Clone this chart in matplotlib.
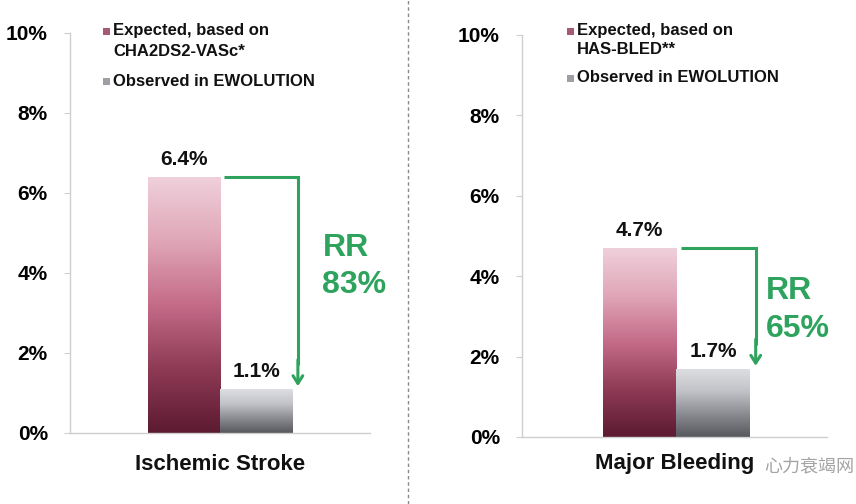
import numpy as np
import matplotlib
matplotlib.use("Agg")
import matplotlib.pyplot as plt
from matplotlib.colors import LinearSegmentedColormap
from matplotlib.patches import Rectangle

plt.rcParams['font.family'] = ['Liberation Sans', 'DejaVu Sans']

# ---- data ----
series = ["Expected", "Observed"]
stroke_values = [6.4, 1.1]
bleeding_values = [4.7, 1.7]
categories = ["Ischemic Stroke", "Major Bleeding"]
value_labels = [["6.4%", "1.1%"], ["4.7%", "1.7%"]]
rr_values = ["83%", "65%"]
legend_expected = [["Expected, based on", "CHA2DS2-VASc*"],
                   ["Expected, based on", "HAS-BLED**"]]
legend_observed = "Observed in EWOLUTION"
yticks = [0, 2, 4, 6, 8, 10]
ytick_labels = ["0%", "2%", "4%", "6%", "8%", "10%"]

W, H = 856, 504
fig = plt.figure(figsize=(W / 100, H / 100), dpi=100)
fig.patch.set_facecolor("white")

pink_cmap = LinearSegmentedColormap.from_list(
    "pink", ["#5c1a31", "#8e3a55", "#c46b88", "#e0a6b8", "#efd0da"])
gray_cmap = LinearSegmentedColormap.from_list(
    "gray", ["#56585e", "#8a8c92", "#c2c3c8", "#dedfe2"])
cmaps = [pink_cmap, gray_cmap]
green = "#2ea35e"


def px_axes(x0, y_top, x1, y_bot):
    return fig.add_axes([x0 / W, 1 - y_bot / H, (x1 - x0) / W, (y_bot - y_top) / H])


panels = [
    dict(box=(70, 33, 370, 433), values=stroke_values, xlim=(-1.58, 2.58),
         rr_x=1.92, rr_y=(4.63, 3.7), leg_x=103, leg_y=(31, 52, 81)),
    dict(box=(522, 35, 827, 437), values=bleeding_values, xlim=(-1.6, 2.55),
         rr_x=1.72, rr_y=(3.62, 2.68), leg_x=567, leg_y=(31, 50, 78)),
]

grad = np.linspace(0, 1, 256).reshape(-1, 1)

for i, p in enumerate(panels):
    ax = px_axes(*p["box"])
    ax.set_xlim(*p["xlim"])
    ax.set_ylim(0, 10)
    vals = p["values"]
    xs = np.arange(len(vals))
    bars = ax.bar(xs, vals, width=1.0, color="none", edgecolor="none", zorder=2)
    for j, b in enumerate(bars):
        x0, w, h = b.get_x(), b.get_width(), b.get_height()
        im = ax.imshow(grad, cmap=cmaps[j], extent=(x0, x0 + w, 0, h),
                       aspect="auto", origin="lower", zorder=2)
        im.set_clip_path(b)
        ax.text(xs[j], vals[j] + 0.2, value_labels[i][j], ha="center", va="bottom",
                fontsize=15, fontweight="bold", color="#111111", zorder=4)
    ax.set_xlim(*p["xlim"])
    ax.set_ylim(0, 10)

    # arrow
    xa0 = 0.5 + 0.06
    xa1 = 1.5 + 0.08
    ax.plot([xa0, xa1, xa1], [vals[0], vals[0], vals[1] + 0.6], color=green,
            lw=2.2, solid_capstyle="butt", solid_joinstyle="miter", zorder=3)
    ax.annotate("", xy=(xa1, vals[1]), xytext=(xa1, vals[1] + 0.8),
                arrowprops=dict(arrowstyle="->,head_length=0.55,head_width=0.35",
                                color=green, lw=2.2), zorder=3)
    ax.text(p["rr_x"], p["rr_y"][0], "RR", color=green, fontsize=23,
            fontweight="bold", ha="left", va="center")
    ax.text(p["rr_x"], p["rr_y"][1], rr_values[i], color=green, fontsize=23,
            fontweight="bold", ha="left", va="center")

    # axes styling
    for s in ["top", "right"]:
        ax.spines[s].set_visible(False)
    for s in ["left", "bottom"]:
        ax.spines[s].set_color("#cfcfcf")
        ax.spines[s].set_linewidth(1.0)
    ax.set_yticks(yticks)
    ax.set_yticklabels(ytick_labels, fontsize=15, fontweight="bold")
    ax.tick_params(axis="y", length=4, color="#cfcfcf", pad=12)
    ax.set_xticks([])
    ax.set_facecolor("none")

    # category label
    cx = (p["box"][0] + p["box"][2]) / 2
    fig.text(cx / W, 1 - 464 / H, categories[i], ha="center", va="center",
             fontsize=16, fontweight="bold", color="#111111")

    # legend
    lx = p["leg_x"]
    ly = p["leg_y"]
    fig.add_artist(Rectangle((lx / W, 1 - (ly[0] + 3.5) / H), 7 / W, 7 / H,
                             transform=fig.transFigure, facecolor="#a65a74",
                             edgecolor="none"))
    fig.add_artist(Rectangle((lx / W, 1 - (ly[2] + 3.5) / H), 7 / W, 7 / H,
                             transform=fig.transFigure, facecolor="#9e9fa4",
                             edgecolor="none"))
    for k, txt in enumerate([legend_expected[i][0], legend_expected[i][1], legend_observed]):
        fig.text((lx + 10) / W, 1 - ly[k] / H, txt, ha="left",
                 va="center", fontsize=12, fontweight="bold", color="#111111")

# dashed divider
fig.add_artist(plt.Line2D([408 / W, 408 / W], [0, 1], transform=fig.transFigure,
                          color="#8a8a8a", lw=1.0, linestyle=(0, (2.5, 2))))

# watermark
fig.text(809 / W, 1 - 466 / H, "心力衰竭网", ha="center", va="center",
         fontsize=13, color="#9a9a9a", alpha=0.9,
         family=["Noto Sans CJK SC", "DejaVu Sans"])

fig.savefig("out.png", dpi=100, facecolor="white")
